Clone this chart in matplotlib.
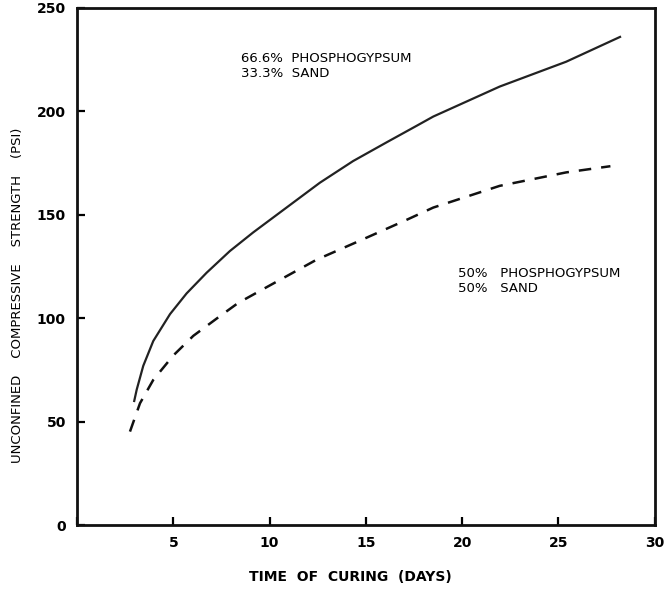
import numpy as np
import matplotlib.pyplot as plt

# values
days_a = [2.97, 3.1, 3.44, 3.96, 4.83, 5.69, 6.73, 7.94, 9.15, 10.88, 12.61,
          14.34, 16.07, 17.63, 18.5, 21.95, 25.4, 28.2]
strength_a = [60, 65.5, 77, 89, 102, 112, 122, 132.5, 141.5, 153.5,
              165.5, 176, 185, 193, 197.5, 212, 224, 236]

days_b = [2.75, 3.27, 3.96, 5.0, 6.04, 7.42, 8.37, 10.0, 12.44, 14.69, 17.1,
          18.5, 21.95, 25.4, 27.7]
strength_b = [45.2, 58.9, 70.2, 82, 91.5, 101, 107.4, 115.8, 128.3, 137.5,
              147.5, 153.5, 164, 170.5, 173.5]

x_ticks = [0, 5, 10, 15, 20, 25, 30]
y_ticks = [0, 50, 100, 150, 200, 250]

fig = plt.figure(figsize=(6.64, 6.12), dpi=100)
ax = fig.add_axes([0.116, 0.142, 0.87, 0.845])

ax.plot(days_a, strength_a, color='#222222', lw=1.6)
ax.plot(days_b, strength_b, color='#111111', lw=1.8, dashes=(5, 4))

ax.set_xlim(0, 30)
ax.set_ylim(0, 250)
ax.set_xticks(x_ticks)
ax.set_yticks(y_ticks)
ax.set_xticklabels(['' if t == 0 else str(t) for t in x_ticks])
ax.tick_params(direction='in', length=6, width=1.6, labelsize=10, pad=8)
for lab in ax.get_xticklabels() + ax.get_yticklabels():
    lab.set_fontweight('bold')
for s in ax.spines.values():
    s.set_linewidth(2)
    s.set_color('#111111')

ax.text(8.5, 222, '66.6%  PHOSPHOGYPSUM\n33.3%  SAND', fontsize=9.5,
        linespacing=1.15, va='center')
ax.text(19.8, 118, '50%   PHOSPHOGYPSUM\n50%   SAND', fontsize=9.5,
        linespacing=1.25, va='center')

fig.text(0.527, 0.057, 'TIME  OF  CURING  (DAYS)', ha='center', va='center',
         fontsize=10, fontweight='bold')
fig.text(0.027, 0.518, 'UNCONFINED    COMPRESSIVE    STRENGTH    (PSI)',
         rotation=90, ha='center', va='center', fontsize=9.5)

fig.savefig('out.png', dpi=100)
